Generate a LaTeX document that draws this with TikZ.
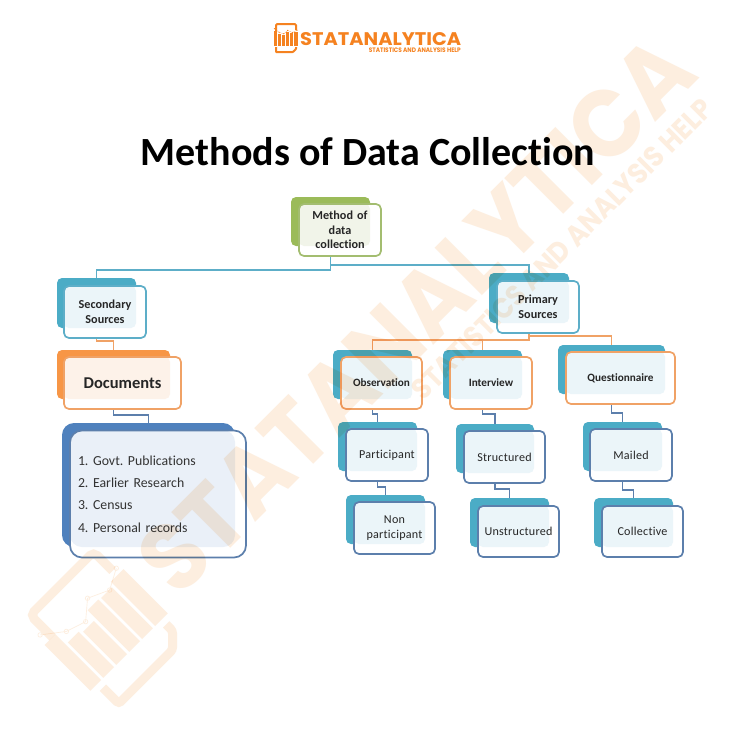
\documentclass[tikz,border=0pt]{standalone}
\usepackage{fontspec}
\usepackage{graphicx}
\setmainfont[Ligatures=NoCommon]{Carlito}
\newfontfamily\logofont{Poppins}
\usetikzlibrary{calc}
\definecolor{wmark}{HTML}{FDEEDF}
\definecolor{logoorange}{HTML}{F58220}
\definecolor{greenback}{HTML}{9BBB59}
\definecolor{greenline}{HTML}{A3BD70}
\definecolor{greenpale}{HTML}{F1F4E9}
\definecolor{tealback}{HTML}{4BACC6}
\definecolor{tealline}{HTML}{5DAEC8}
\definecolor{tealpale}{HTML}{EBF5F9}
\definecolor{orangeback}{HTML}{F79646}
\definecolor{orangeline}{HTML}{F0A266}
\definecolor{orangepale}{HTML}{FDF2E9}
\definecolor{blueback}{HTML}{4F81BD}
\definecolor{blueline}{HTML}{5C7FAC}
\definecolor{bluepale}{HTML}{EAF0F8}
\tikzset{
  cardcommon/.style={shape=rectangle,inner sep=0pt,outer sep=0pt,rounded corners=5pt},
  backcard/.style={cardcommon,fill=#1},
  panel/.style={path picture={\fill[#1] (panelnw) rectangle (\curback.east |- \curback.south);}},
  frontcard/.style={cardcommon,fill=white,line width=1.7pt,align=center,text=black!85},
  fgreen/.style={frontcard,draw=greenline,panel=greenpale},
  fteal/.style={frontcard,draw=tealline,panel=tealpale},
  forange/.style={frontcard,draw=orangeline,panel=tealpale},
  fdoc/.style={frontcard,draw=orangeline,panel=orangepale},
  fblue/.style={frontcard,draw=blueline,panel=tealpale},
  fbig/.style={frontcard,draw=blueline,panel=bluepale},
  lbold/.style={font=\fontsize{12.2}{14.6}\selectfont\bfseries},
  lsemi/.style={font=\fontsize{11.2}{14}\selectfont\bfseries},
  lreg/.style={font=\fontsize{12.1}{15}\selectfont\addfontfeatures{LetterSpace=2}},
  lbig/.style={font=\fontsize{16.5}{20}\selectfont\bfseries},
  ltext/.style={font=\fontsize{13.8}{22.4}\selectfont\frenchspacing,text=black!80},
  conn/.style={line width=1.5pt,draw=#1,line join=miter},
}
\newcommand{\mkback}[6]{\node[backcard=#2,minimum width={(#5-#3)*1pt},minimum height={(#6-#4)*1pt}] (#1) at ({(#3+#5)/2},{(#4+#6)/2}) {};}
\newcommand{\mkfront}[8]{\def\curback{#3}\coordinate (panelnw) at (#4,#5);\node[#1,minimum width={(#6-#4)*1pt},minimum height={(#7-#5)*1pt},text width={(#6-#4)*1pt}] (#2) at ({(#4+#6)/2},{(#5+#7)/2}) {#8};}
\newcommand{\elbow}[4]{\draw[conn=#1] (#2.south) -- (#2.south |- 0,#4) -- (#3.north |- 0,#4) -- (#3.north);}
% #1 colour, #2 scale
\newcommand{\logomark}[2]{%
  \draw[#1,line width={2*#2*1pt},rounded corners={1.2*#2*1pt}] (1,8) -- (1,1) -- (21,1) -- (21,7);
  \draw[#1,line width={2*#2*1pt},rounded corners={0.6*#2*1pt}] (1,24) -- (1,29) -- (18,29) -- (21,26) -- (21,24);
  \fill[#1] (-1.5,8) rectangle (1.9,22.5);
  \fill[#1] (2.6,11.3) rectangle (6,22.5);
  \fill[#1] (6.7,12) rectangle (10.1,22.5);
  \fill[#1] (10.8,9.3) rectangle (14.2,22.5);
  \fill[#1] (14.9,9.5) rectangle (18.3,22.5);
  \fill[#1] (19,8.5) rectangle (23,22.5);
  \draw[#1,line width={0.15*#2*1pt}] (-0.6,5.7) circle (0.5) -- (4.1,9.3) circle (0.5) -- (8.7,10.8) circle (0.5) -- (12.7,7.4) circle (0.5) -- (17.5,9.6) circle (0.5) -- (22,7.2) circle (0.5);
}
% #1 colour, #2 name, #3 start u, #4 width, #5 height, #6 sub end u
\newcommand{\logowords}[6]{%
  \node[anchor=base west,inner sep=0pt,text=#1,transform shape] (logotext#2) at (#3,22) {\resizebox{#4pt}{#5pt}{\logofont\bfseries STATANALYTICA}};
  \node[anchor=base east,inner sep=0pt,text=#1,transform shape] (logosub#2) at (#6,29.5) {\resizebox{92pt}{4.6pt}{\logofont\bfseries STATISTICS AND ANALYSIS HELP}};
}
\begin{document}
\begin{tikzpicture}[x=1pt,y=-1pt]
\useasboundingbox (0,0) rectangle (736,736);
\fill[white] (0,0) rectangle (736,736);
% small logo
\begin{scope}[shift={(275,23)}]
\logomark{logoorange}{1}
\logowords{logoorange}{small}{25}{161}{13}{186}
\end{scope}
\node[anchor=base,inner sep=0pt,font=\fontsize{40}{46}\selectfont\bfseries] (title) at (368,165) {Methods of Data Collection};
% back cards
\mkback{m0}{greenback}{291}{197}{370}{246}
\mkback{sec0}{tealback}{57}{278}{136}{328}
\mkback{doc0}{orangeback}{57}{350}{170}{399}
\node[backcard=blueback,rounded corners=12pt,minimum width=173pt,minimum height=124pt] (big0) at (148.5,485) {};
\mkback{pri0}{tealback}{489}{273}{569}{323}
\mkback{obs0}{tealback}{333}{350}{412}{399}
\mkback{int0}{tealback}{443}{350}{522}{399}
\mkback{que0}{tealback}{558}{345}{665}{394}
\mkback{par0}{tealback}{338}{422}{417}{471}
\mkback{non0}{tealback}{346}{495}{425}{544}
\mkback{str0}{tealback}{456}{424}{534}{473}
\mkback{uns0}{tealback}{470}{498}{549}{547}
\mkback{mai0}{tealback}{583}{422}{662}{471}
\mkback{col0}{tealback}{594}{498}{673}{547}
% connectors
\elbow{tealline}{m0}{sec0}{270}
\elbow{tealline}{m0}{pri0}{265}
\elbow{orangeline}{sec0}{doc0}{341}
\elbow{blueline}{doc0}{big0}{415}
\elbow{orangeline}{pri0}{obs0}{340}
\elbow{orangeline}{pri0}{int0}{340}
\elbow{orangeline}{pri0}{que0}{336}
\elbow{blueline}{obs0}{par0}{414}
\elbow{blueline}{int0}{str0}{414}
\elbow{blueline}{que0}{mai0}{413}
\elbow{blueline}{par0}{non0}{487}
\elbow{blueline}{str0}{uns0}{489}
\elbow{blueline}{mai0}{col0}{490}
% front cards
\mkfront{fgreen,lbold}{m}{m0}{299}{204}{381}{256}{Method of\\data\\collection}
\mkfront{fteal,lbold}{sec}{sec0}{64}{286}{146}{338}{Secondary\\Sources}
\mkfront{fdoc,lbig}{doc}{doc0}{64}{357}{181}{409}{Documents}
\def\curback{big0}
\coordinate (panelnw) at (70,430);
\node[fbig,rounded corners=12pt,minimum width=176pt,minimum height=127pt,text width=160pt,align=left,ltext] (big) at (158,494) {1. Govt. Publications\\2. Earlier Research\\3. Census\\4. Personal records};
\mkfront{fteal,lbold}{pri}{pri0}{497}{281}{579}{333}{Primary\\Sources}
\mkfront{forange,lsemi}{obs}{obs0}{341}{357}{422}{409}{Observation}
\mkfront{forange,lsemi}{int}{int0}{450}{357}{532}{409}{Interview}
\mkfront{forange,lsemi}{que}{que0}{566}{352}{675}{404}{Questionnaire}
\mkfront{fblue,lreg}{par}{par0}{346}{429}{428}{481}{Participant}
\mkfront{fblue,lreg}{non}{non0}{354}{502}{435}{554}{Non\\participant}
\mkfront{fblue,lreg}{str}{str0}{464}{431}{545}{483}{Structured}
\mkfront{fblue,lreg}{uns}{uns0}{478}{506}{559}{557}{Unstructured}
\mkfront{fblue,lreg}{mai}{mai0}{590}{429}{672}{481}{Mailed}
\mkfront{fblue,lreg}{colt}{col0}{602}{506}{683}{557}{Collective}
% watermark
\begin{scope}[blend mode=multiply]
\begin{scope}[shift={(24,615)},rotate=45,scale=4.47]
\logomark{wmark}{4.47}
\logowords{wmark}{mark}{26.6}{165.5}{15.2}{189.2}
\end{scope}
\end{scope}
\end{tikzpicture}
\end{document}
